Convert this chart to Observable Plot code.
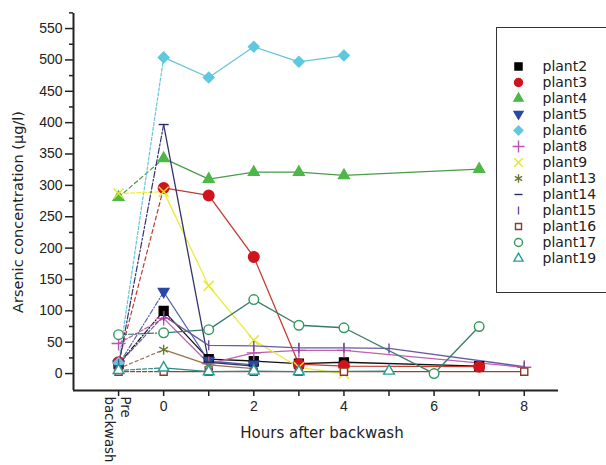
<!DOCTYPE html>
<html><head><meta charset="utf-8">
<script src="https://cdn.jsdelivr.net/npm/d3@7"></script>
<script src="https://cdn.jsdelivr.net/npm/@observablehq/plot@0.6"></script>
<style>
html,body{margin:0;padding:0;background:#fff;}
body{width:606px;height:465px;overflow:hidden;position:relative;}
#chart{position:absolute;left:0;top:0;}
#legend{position:absolute;left:496px;top:27px;width:140px;height:264px;border:1.5px solid #333;background:#fff;}
#legend svg{display:block;}
</style></head>
<body><div id="chart"></div><div id="legend"></div>
<script>
// ---- data (hours; -1 = "Pre backwash") ----
const hours = [-1, 0, 1, 2, 3, 4, 5, 6, 7, 8];
const plant2  = [15, 100, 23, 20, 16, 18, null, null, 12, null];
const plant3  = [18, 296, 284, 186, 15, 12, null, null, 11, null];
const plant4  = [281, 343, 310, 321, 321, 316, null, null, 326, null];
const plant5  = [14, 130, 20, 14, null, null, null, null, null, null];
const plant6  = [17, 504, 472, 521, 497, 507, null, null, null, null];
const plant8  = [48, 88, 16, 33, 37, 37, null, null, null, 10];
const plant9  = [287, 290, 140, 53, 10, 0, null, null, null, null];
const plant13 = [8, 38, 14, 8, null, null, null, null, null, null];
const plant14 = [12, 397, 18, 12, null, null, null, null, null, null];
const plant15 = [15, 92, 45, 44, 41, 41, 40, null, null, 11];
const plant16 = [3, 3, 3, 3, 3, 3, null, null, null, 3];
const plant17 = [62, 65, 70, 118, 77, 73, null, 0, 75, null];
const plant19 = [5, 9, 3, 4, 3, null, 4, null, null, null];

const plantNames = ["plant2","plant3","plant4","plant5","plant6","plant8","plant9","plant13","plant14","plant15","plant16","plant17","plant19"];
const plantValues = [plant2, plant3, plant4, plant5, plant6, plant8, plant9, plant13, plant14, plant15, plant16, plant17, plant19];

const yMajorTicks = [0, 50, 100, 150, 200, 250, 300, 350, 400, 450, 500, 550];
const yMinorTicks = [25, 75, 125, 175, 225, 275, 325, 375, 425, 475, 525, 575];
const xTicks = [-1, 0, 1, 2, 3, 4, 5, 6, 7, 8];
const xTickLabels = ["", "0", "", "2", "", "4", "", "6", "", "8"];
const preLabel = "Pre\nbackwash";
const xTitle = "Hours after backwash";
const yTitle = "Arsenic concentration (µg/l)";

// ---- custom symbols ----
const downTriangle = {draw(ctx, size){const h=Math.sqrt(size/Math.PI);ctx.moveTo(-1.15*h,-0.8*h);ctx.lineTo(1.15*h,-0.8*h);ctx.lineTo(0,1.2*h);ctx.closePath();}};
const dashSym = {draw(ctx, size){const h=Math.sqrt(size/Math.PI);ctx.moveTo(-h,0);ctx.lineTo(h,0);}};
const barSym = {draw(ctx, size){const h=Math.sqrt(size/Math.PI);ctx.moveTo(0,-h);ctx.lineTo(0,h);}};

// ---- styles ----
const styles = {
  plant2:  {symbol:"square",   fill:"#000000", stroke:"#000000", line:"#111111", dash:"5,2,1,2", r:5},
  plant3:  {symbol:"circle",   fill:"#d0141e", stroke:"#d0141e", line:"#c23a30", dash:"4,3", r:5.3},
  plant4:  {symbol:"triangle", fill:"#4cb848", stroke:"#4cb848", line:"#4a9c48", dash:"4,3", r:4},
  plant5:  {symbol:downTriangle, fill:"#2a48a8", stroke:"#2a48a8", line:"#5060b0", dash:"5,2,1,2", r:4.6},
  plant6:  {symbol:"diamond2", fill:"#5ec8e0", stroke:"#5ec8e0", line:"#66c4dc", dash:"3,2", r:4.8},
  plant8:  {symbol:"plus",     fill:"none", stroke:"#c050b0", line:"#c060b0", dash:"4,2", r:4.6},
  plant9:  {symbol:"times",    fill:"none", stroke:"#e6e628", line:"#ecec3a", dash:"4,2", r:4.6},
  plant13: {symbol:"asterisk", fill:"none", stroke:"#6a7a30", line:"#9a7050", dash:"3,3", r:4.8},
  plant14: {symbol:dashSym,    fill:"none", stroke:"#2a2a6a", line:"#34346e", dash:"6,2,2,2", r:5},
  plant15: {symbol:barSym,     fill:"none", stroke:"#6a4a9a", line:"#6a5aa0", dash:"4,2", r:5},
  plant16: {symbol:"square",   fill:"#ffffff", stroke:"#8a3a2a", line:"#8a4a3a", dash:"4,2", r:4},
  plant17: {symbol:"circle",   fill:"#ffffff", stroke:"#2f9a5a", line:"#3a7a6a", dash:"5,2,1,2", r:4.8},
  plant19: {symbol:"triangle", fill:"#ffffff", stroke:"#2a9a9a", line:"#2a8a8a", dash:"4,2", r:4}
};

const lineMarks = [], dotMarks = [];
plantNames.forEach((name, i) => {
  const st = styles[name];
  const pts = hours.map((h, j) => ({x: h, y: plantValues[i][j]})).filter(d => d.y != null);
  const pre = pts.filter(d => d.x <= 0);
  const post = pts.filter(d => d.x >= 0);
  lineMarks.push(Plot.line(pre, {x: "x", y: "y", stroke: st.line, strokeWidth: 1.2, strokeDasharray: st.dash}));
  lineMarks.push(Plot.line(post, {x: "x", y: "y", stroke: st.line, strokeWidth: 1.3}));
  dotMarks.push(Plot.dot(pts, {x: "x", y: "y", symbol: st.symbol, r: st.r, fill: st.fill, stroke: st.stroke, strokeWidth: 1.4}));
});

const chart = Plot.plot({
  width: 606, height: 465,
  marginLeft: 73, marginTop: 13, marginRight: 48, marginBottom: 75,
  x: {domain: [-2, 8.76]},
  y: {domain: [-27, 574]},
  style: {fontFamily: "'Liberation Sans', Arial, sans-serif", fontSize: "14px", color: "#222", background: "transparent"},
  marks: [
    Plot.axisY(yMajorTicks, {tickSize: 8, tickPadding: 3, strokeWidth: 1.5, fontSize: 14, label: null}),
    Plot.axisY(yMinorTicks, {tickSize: 4, strokeWidth: 1.5, tickFormat: () => "", label: null}),
    Plot.axisX(xTicks, {tickSize: 6, tickPadding: 5, strokeWidth: 1.5, fontSize: 14, label: null,
      tickFormat: d => xTickLabels[xTicks.indexOf(d)]}),
    Plot.ruleX([-2], {stroke: "#222", strokeWidth: 2}),
    Plot.ruleY([-27], {stroke: "#222", strokeWidth: 2}),
    ...lineMarks,
    ...dotMarks,
    Plot.text([preLabel], {x: -1, frameAnchor: "bottom", dy: 6, rotate: 90, textAnchor: "start", lineAnchor: "middle", lineHeight: 1.2,
      fontFamily: "'DejaVu Sans', Verdana, sans-serif", fontSize: 13.3, fill: "#222"}),
    Plot.text([xTitle], {frameAnchor: "bottom", dy: 43, dx: 6, lineAnchor: "middle", textAnchor: "middle",
      fontFamily: "'DejaVu Sans', Verdana, sans-serif", fontSize: 15, fill: "#222"}),
    Plot.text([yTitle], {frameAnchor: "left", dx: -55, dy: 10, rotate: -90, textAnchor: "middle", lineAnchor: "middle",
      fontFamily: "'DejaVu Sans', Verdana, sans-serif", fontSize: 14.5, fill: "#222"})
  ]
});
document.getElementById("chart").append(chart);

// ---- legend ----
const legendMarks = plantNames.map(name => {
  const st = styles[name];
  return Plot.dot([name], {y: d => d, frameAnchor: "left", dx: 21, symbol: st.symbol, r: Math.min(st.r * 0.85, 4), fill: st.fill, stroke: st.stroke, strokeWidth: 1.4});
});
const legend = Plot.plot({
  width: 140, height: 264, marginLeft: 0, marginRight: 0, marginTop: 0, marginBottom: 0,
  y: {type: "point", domain: plantNames, range: [29, 239], axis: null},
  style: {background: "transparent"},
  marks: [
    ...legendMarks,
    Plot.text(plantNames, {y: d => d, text: d => d, frameAnchor: "left", dx: 45, textAnchor: "start",
      fontFamily: "'DejaVu Sans', Verdana, sans-serif", fontSize: 14, fill: "#222"})
  ]
});
document.getElementById("legend").append(legend);
</script>
</body></html>
